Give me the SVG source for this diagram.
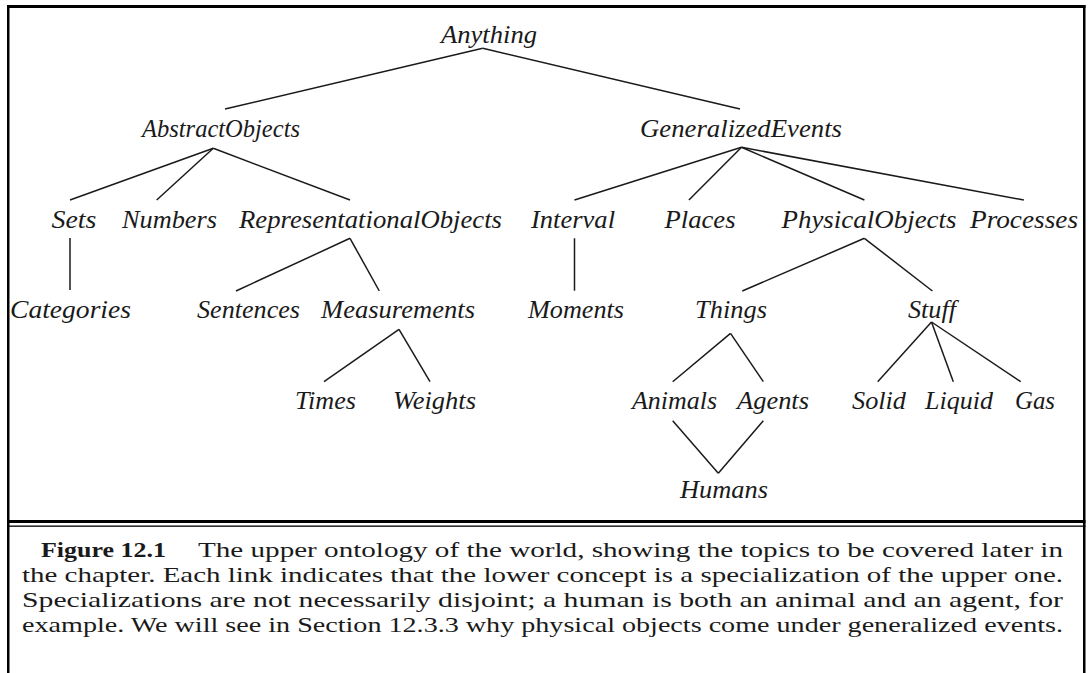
<svg xmlns="http://www.w3.org/2000/svg" width="1089" height="673" viewBox="0 0 1089 673">
<style>
.n{font-style:italic;font-size:25px;fill:#1a1a1a;text-anchor:middle}
.c{font-size:22px;fill:#1a1a1a}
.b{font-weight:bold}
#connectors line{stroke:#1a1a1a;stroke-width:1.5;fill:none}
.frame{fill:#000}
</style>
<rect width="1089" height="673" fill="#fff"/>
<g id="frame">
<rect class="frame" x="7" y="5" width="1078.5" height="3"/>
<rect class="frame" x="7" y="5" width="2.5" height="668"/>
<rect class="frame" x="1083" y="5" width="2.5" height="668"/>
<rect class="frame" x="7" y="520" width="1078.5" height="3"/>
<rect class="frame" x="7" y="525.5" width="1078.5" height="1.3"/>
</g>
<g id="connectors">
<line x1="482.7" y1="48.3" x2="225" y2="109"/>
<line x1="482.7" y1="48.3" x2="740" y2="109"/>
<line x1="213.3" y1="148.3" x2="70" y2="200"/>
<line x1="213.3" y1="148.3" x2="156.7" y2="200"/>
<line x1="213.3" y1="148.3" x2="350" y2="200"/>
<line x1="70" y1="238" x2="70" y2="290"/>
<line x1="350" y1="238.3" x2="236" y2="291"/>
<line x1="350" y1="238.3" x2="379.3" y2="291"/>
<line x1="399" y1="329.3" x2="324" y2="381.7"/>
<line x1="399" y1="329.3" x2="430" y2="381.7"/>
<line x1="741.5" y1="147.3" x2="574.5" y2="200"/>
<line x1="741.5" y1="147.3" x2="688.9" y2="200"/>
<line x1="741.5" y1="147.3" x2="864.4" y2="200"/>
<line x1="741.5" y1="147.3" x2="1023.8" y2="200"/>
<line x1="574.5" y1="238.3" x2="574.5" y2="290.7"/>
<line x1="864.4" y1="238.3" x2="742.3" y2="291"/>
<line x1="864.4" y1="238.3" x2="932.4" y2="291"/>
<line x1="730.5" y1="333.3" x2="672.7" y2="381.7"/>
<line x1="730.5" y1="333.3" x2="763.3" y2="381.7"/>
<line x1="931.5" y1="322" x2="877.7" y2="381.7"/>
<line x1="931.5" y1="322" x2="953.3" y2="381.7"/>
<line x1="931.5" y1="322" x2="1020.7" y2="381.7"/>
<line x1="672.7" y1="420.7" x2="718.3" y2="473.3"/>
<line x1="763.3" y1="420.7" x2="718.3" y2="473.3"/>
</g>
<g id="nodes" font-family="'Liberation Serif', 'Times New Roman', serif">
<g id="n-anything"><text class="n" x="489" y="43" textLength="96" lengthAdjust="spacingAndGlyphs">Anything</text></g>
<g id="n-abstractobjects"><text class="n" x="221" y="137" textLength="158" lengthAdjust="spacingAndGlyphs">AbstractObjects</text></g>
<g id="n-generalizedevents"><text class="n" x="741" y="137" textLength="202" lengthAdjust="spacingAndGlyphs">GeneralizedEvents</text></g>
<g id="n-sets"><text class="n" x="74" y="228" textLength="45" lengthAdjust="spacingAndGlyphs">Sets</text></g>
<g id="n-numbers"><text class="n" x="169.5" y="228" textLength="95" lengthAdjust="spacingAndGlyphs">Numbers</text></g>
<g id="n-representationalobjects"><text class="n" x="370.5" y="228" textLength="263" lengthAdjust="spacingAndGlyphs">RepresentationalObjects</text></g>
<g id="n-interval"><text class="n" x="573" y="228" textLength="84" lengthAdjust="spacingAndGlyphs">Interval</text></g>
<g id="n-places"><text class="n" x="700" y="228" textLength="71" lengthAdjust="spacingAndGlyphs">Places</text></g>
<g id="n-physicalobjects"><text class="n" x="869" y="228" textLength="175" lengthAdjust="spacingAndGlyphs">PhysicalObjects</text></g>
<g id="n-processes"><text class="n" x="1024" y="228" textLength="108" lengthAdjust="spacingAndGlyphs">Processes</text></g>
<g id="n-categories"><text class="n" x="70.5" y="318" textLength="121" lengthAdjust="spacingAndGlyphs">Categories</text></g>
<g id="n-sentences"><text class="n" x="248.5" y="318" textLength="103" lengthAdjust="spacingAndGlyphs">Sentences</text></g>
<g id="n-measurements"><text class="n" x="398" y="318" textLength="154" lengthAdjust="spacingAndGlyphs">Measurements</text></g>
<g id="n-moments"><text class="n" x="576" y="318" textLength="96" lengthAdjust="spacingAndGlyphs">Moments</text></g>
<g id="n-things"><text class="n" x="731" y="318" textLength="72" lengthAdjust="spacingAndGlyphs">Things</text></g>
<g id="n-stuff"><text class="n" x="932" y="318" textLength="48" lengthAdjust="spacingAndGlyphs">Stuff</text></g>
<g id="n-times"><text class="n" x="325.5" y="409" textLength="61" lengthAdjust="spacingAndGlyphs">Times</text></g>
<g id="n-weights"><text class="n" x="434.5" y="409" textLength="83" lengthAdjust="spacingAndGlyphs">Weights</text></g>
<g id="n-animals"><text class="n" x="674.5" y="409" textLength="85" lengthAdjust="spacingAndGlyphs">Animals</text></g>
<g id="n-agents"><text class="n" x="773" y="409" textLength="72" lengthAdjust="spacingAndGlyphs">Agents</text></g>
<g id="n-solid"><text class="n" x="879" y="409" textLength="54" lengthAdjust="spacingAndGlyphs">Solid</text></g>
<g id="n-liquid"><text class="n" x="959" y="409" textLength="68" lengthAdjust="spacingAndGlyphs">Liquid</text></g>
<g id="n-gas"><text class="n" x="1035" y="409" textLength="40" lengthAdjust="spacingAndGlyphs">Gas</text></g>
<g id="n-humans"><text class="n" x="724" y="498" textLength="88" lengthAdjust="spacingAndGlyphs">Humans</text></g>
</g>
<g id="caption" font-family="'Liberation Serif', 'Times New Roman', serif">
<text class="c b" x="41" y="557" textLength="125" lengthAdjust="spacingAndGlyphs">Figure 12.1</text>
<text class="c" x="198" y="557" textLength="865" lengthAdjust="spacingAndGlyphs">The upper ontology of the world, showing the topics to be covered later in</text>
<text class="c" x="22" y="582" textLength="1041" lengthAdjust="spacingAndGlyphs">the chapter. Each link indicates that the lower concept is a specialization of the upper one.</text>
<text class="c" x="22" y="607" textLength="1041" lengthAdjust="spacingAndGlyphs">Specializations are not necessarily disjoint; a human is both an animal and an agent, for</text>
<text class="c" x="22" y="632" textLength="1041" lengthAdjust="spacingAndGlyphs">example. We will see in Section 12.3.3 why physical objects come under generalized events.</text>
</g>
</svg>
